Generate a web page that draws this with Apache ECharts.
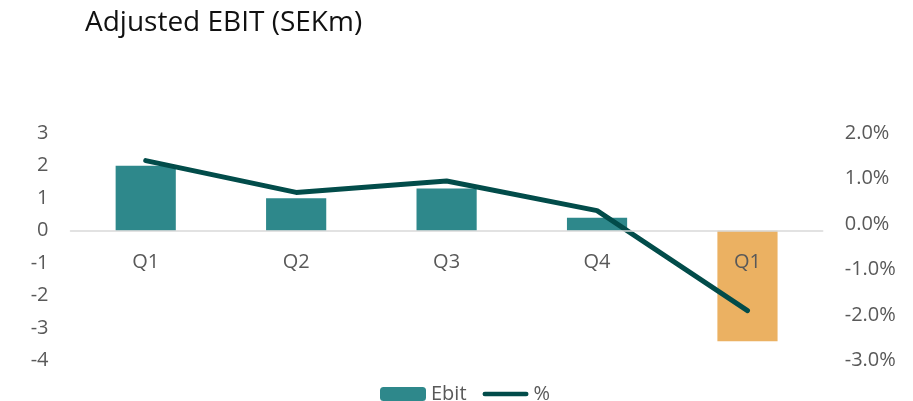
<!DOCTYPE html>
<html>
<head>
<meta charset="utf-8">
<script src="https://cdn.jsdelivr.net/npm/echarts@6/dist/echarts.min.js"></script>
<style>
html,body{margin:0;padding:0;background:#fff;}
#chart{width:913px;height:401px;}
</style>
</head>
<body>
<div id="chart"></div>
<script>
const categories = ['Q1', 'Q2', 'Q3', 'Q4', 'Q1'];
const ebitValues = [2.0, 1.0, 1.3, 0.4, -3.4];
const marginPct = [1.4, 0.7, 0.95, 0.3, -1.9];
const highlightIndex = 4;
const leftMin = -4, leftMax = 3;
const rightMin = -3, rightMax = 2;

const FONT = "'Open Sans', sans-serif";
const TEAL = '#2e888b';
const ORANGE = '#ebb162';
const DARK = '#024c4a';
const GRAY = '#595959';
const FS = 20;

const gridTop = 133.3, gridBottom = 40.3;
const plotH = 401 - gridTop - gridBottom;
// move the category axis up to the left axis' zero
const zeroOffset = -((0 - leftMin) / (leftMax - leftMin)) * plotH;

const chart = echarts.init(document.getElementById('chart'));
chart.setOption({
  animation: false,
  textStyle: { fontFamily: FONT },
  title: {
    text: 'Adjusted EBIT (SEKm)',
    left: 80, top: 4,
    textStyle: { fontFamily: FONT, fontSize: 28, fontWeight: 'normal', color: '#111' }
  },
  legend: {
    left: 380, top: 384,
    padding: 0,
    itemWidth: 46, itemHeight: 14, itemGap: 16,
    textStyle: { fontFamily: FONT, fontSize: FS, color: GRAY },
    data: [
      { name: 'Ebit' },
      { name: '%', icon: 'path://M2.5,0 L47.5,0 A2.5,2.5 0 0 1 47.5,5 L2.5,5 A2.5,2.5 0 0 1 2.5,0 Z' }
    ]
  },
  grid: { left: 70.5, right: 90.3, top: gridTop, bottom: gridBottom },
  xAxis: {
    type: 'category',
    data: categories,
    z: 10,
    offset: zeroOffset,
    axisLine: { onZero: false, lineStyle: { color: '#d9d9d9', width: 1.5 } },
    axisTick: { show: false },
    axisLabel: { margin: 22, fontSize: FS, color: GRAY, fontFamily: FONT }
  },
  yAxis: [
    {
      type: 'value', min: leftMin, max: leftMax, interval: 1,
      splitLine: { show: false },
      axisLine: { show: false }, axisTick: { show: false },
      axisLabel: { margin: 22, fontSize: FS, color: GRAY, fontFamily: FONT }
    },
    {
      type: 'value', min: rightMin, max: rightMax, interval: 1, position: 'right',
      splitLine: { show: false },
      axisLine: { show: false }, axisTick: { show: false },
      axisLabel: { margin: 22, fontSize: FS, color: GRAY, fontFamily: FONT,
        formatter: v => v.toFixed(1) + '%' }
    }
  ],
  series: [
    {
      name: 'Ebit', type: 'bar', yAxisIndex: 0,
      barWidth: '40%',
      itemStyle: { color: TEAL },
      data: ebitValues.map((v, i) => i === highlightIndex ? { value: v, itemStyle: { color: ORANGE } } : v)
    },
    {
      name: '%', type: 'line', yAxisIndex: 1,
      symbol: 'none', z: 5,
      lineStyle: { color: DARK, width: 5, cap: 'round', join: 'round' },
      itemStyle: { color: DARK },
      data: marginPct
    }
  ]
});
</script>
</body>
</html>
